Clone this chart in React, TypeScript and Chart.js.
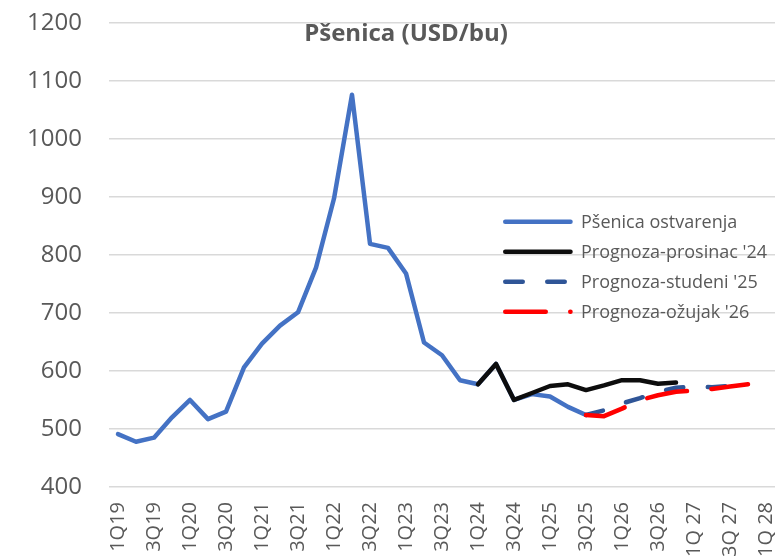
import React, { useEffect, useRef } from 'react';
import { Chart, registerables } from 'chart.js';

Chart.register(...registerables);

const categories = [
  '1Q19', '2Q19', '3Q19', '4Q19',
  '1Q20', '2Q20', '3Q20', '4Q20',
  '1Q21', '2Q21', '3Q21', '4Q21',
  '1Q22', '2Q22', '3Q22', '4Q22',
  '1Q23', '2Q23', '3Q23', '4Q23',
  '1Q24', '2Q24', '3Q24', '4Q24',
  '1Q25', '2Q25', '3Q25', '4Q25',
  '1Q26', '2Q26', '3Q26', '4Q26',
  '1Q 27', '2Q 27', '3Q 27', '4Q 27',
  '1Q 28',
];

// only every second category is labelled on the axis
const tickLabels = [
  '1Q19', '', '3Q19', '',
  '1Q20', '', '3Q20', '',
  '1Q21', '', '3Q21', '',
  '1Q22', '', '3Q22', '',
  '1Q23', '', '3Q23', '',
  '1Q24', '', '3Q24', '',
  '1Q25', '', '3Q25', '',
  '1Q26', '', '3Q26', '',
  '1Q 27', '', '3Q 27', '',
  '1Q 28',
];

const actual = [
  491, 478, 485, 520,
  550, 517, 530, 606,
  647, 678, 701, 778,
  897, 1076, 819, 812,
  768, 649, 627, 584,
  577, 612, 550, 560,
  556, 538, 524, null,
  null, null, null, null,
  null, null, null, null,
  null,
];

const forecastDec24 = [
  null, null, null, null,
  null, null, null, null,
  null, null, null, null,
  null, null, null, null,
  null, null, null, null,
  577, 612, 550, 562,
  574, 577, 567, 575,
  584, 584, 578, 580,
  null, null, null, null,
  null,
];

const forecastNov25 = [
  null, null, null, null,
  null, null, null, null,
  null, null, null, null,
  null, null, null, null,
  null, null, null, null,
  null, null, null, null,
  null, null, 524, 532,
  544, 553, 564, 571,
  573, 572, 574, 577,
  null,
];

const forecastMar26 = [
  null, null, null, null,
  null, null, null, null,
  null, null, null, null,
  null, null, null, null,
  null, null, null, null,
  null, null, null, null,
  null, null, 524, 522,
  535, 550, 558, 564,
  566, 569, 573, 577,
  null,
];

const seriesNames = [
  'Pšenica ostvarenja',
  "Prognoza-prosinac '24",
  "Prognoza-studeni '25",
  "Prognoza-ožujak '26",
];

const chartTitle = 'Pšenica (USD/bu)';
const yMin = 400;
const yMax = 1200;
const yStep = 100;

const FONT = '"Open Sans", "Noto Sans", sans-serif';
const TEXT = '#595959';

const overlayPlugin = {
  id: 'overlay',
  afterDraw(chart: any) {
    const ctx = chart.ctx as CanvasRenderingContext2D;
    const area = chart.chartArea;
    ctx.save();
    // title
    ctx.fillStyle = TEXT;
    ctx.font = `bold 24px ${FONT}`;
    ctx.textAlign = 'center';
    ctx.textBaseline = 'alphabetic';
    ctx.fillText(chartTitle, area.left + 297, area.top + 18);

    // legend
    const x0 = area.left + 396.25;
    const x1 = area.left + 461.5;
    const tx = area.left + 472;
    chart.data.datasets.forEach((ds: any, i: number) => {
      const y = area.top + 199 + i * 30;
      ctx.beginPath();
      ctx.setLineDash(ds.borderDash || []);
      ctx.lineDashOffset = 0;
      ctx.lineCap = 'round';
      ctx.lineWidth = ds.borderWidth;
      ctx.strokeStyle = ds.borderColor;
      ctx.moveTo(x0, y);
      ctx.lineTo(x1, y);
      ctx.stroke();
      ctx.setLineDash([]);
      ctx.fillStyle = TEXT;
      ctx.font = `18px ${FONT}`;
      ctx.textAlign = 'left';
      ctx.textBaseline = 'alphabetic';
      ctx.fillText(ds.label, tx, y + 6.5);
    });
    ctx.restore();
  },
};

export default function App() {
  const ref = useRef<HTMLCanvasElement | null>(null);

  useEffect(() => {
    if (!ref.current) return;
    const lineBase = {
      pointRadius: 0,
      pointHoverRadius: 0,
      tension: 0,
      borderWidth: 4.5,
      fill: false,
      spanGaps: false,
      borderCapStyle: 'round' as const,
      borderJoinStyle: 'round' as const,
    };
    const chart = new Chart(ref.current, {
      type: 'line',
      data: {
        labels: categories,
        datasets: [
          { ...lineBase, label: seriesNames[0], data: actual, borderColor: '#4472C4', order: 3 },
          { ...lineBase, label: seriesNames[1], data: forecastDec24, borderColor: '#0D0D0D', order: 2 },
          { ...lineBase, label: seriesNames[2], data: forecastNov25, borderColor: '#2F5597', borderDash: [17.5, 24.5], order: 1 },
          { ...lineBase, label: seriesNames[3], data: forecastMar26, borderColor: '#FF0000', borderDash: [40.5, 24.5], order: 0 },
        ],
      },
      options: {
        animation: false,
        responsive: false,
        maintainAspectRatio: false,
        layout: { padding: { top: 22.7, left: 0, right: 0, bottom: 0 } },
        plugins: {
          legend: { display: false },
          title: { display: false },
          tooltip: { enabled: false },
        },
        scales: {
          x: {
            type: 'category',
            offset: true,
            grid: { display: false, drawTicks: false },
            border: { display: false },
            ticks: {
              autoSkip: false,
              minRotation: 90,
              maxRotation: 90,
              padding: 15,
              color: TEXT,
              font: { family: FONT, size: 20 },
              callback: (_v: any, i: number) => tickLabels[i],
            },
            afterFit: (scale: any) => {
              scale.height = 70;
              scale.paddingLeft = 0;
              scale.paddingRight = 0;
            },
          },
          y: {
            min: yMin,
            max: yMax,
            grid: { color: '#D9D9D9', lineWidth: 1.5, drawTicks: false },
            border: { display: false },
            ticks: {
              stepSize: yStep,
              padding: 27,
              color: TEXT,
              font: { family: FONT, size: 24 },
              callback: (v: any) => String(v),
            },
            afterFit: (scale: any) => {
              scale.width = 109;
              scale.paddingTop = 0;
              scale.paddingBottom = 0;
            },
          },
        },
      },
      plugins: [overlayPlugin],
    });
    return () => chart.destroy();
  }, []);

  return (
    <div style={{ position: 'absolute', left: 0, top: 0, width: 775, height: 557, background: '#fff' }}>
      <canvas ref={ref} width={775} height={557} style={{ width: 775, height: 557, display: 'block' }} />
    </div>
  );
}
